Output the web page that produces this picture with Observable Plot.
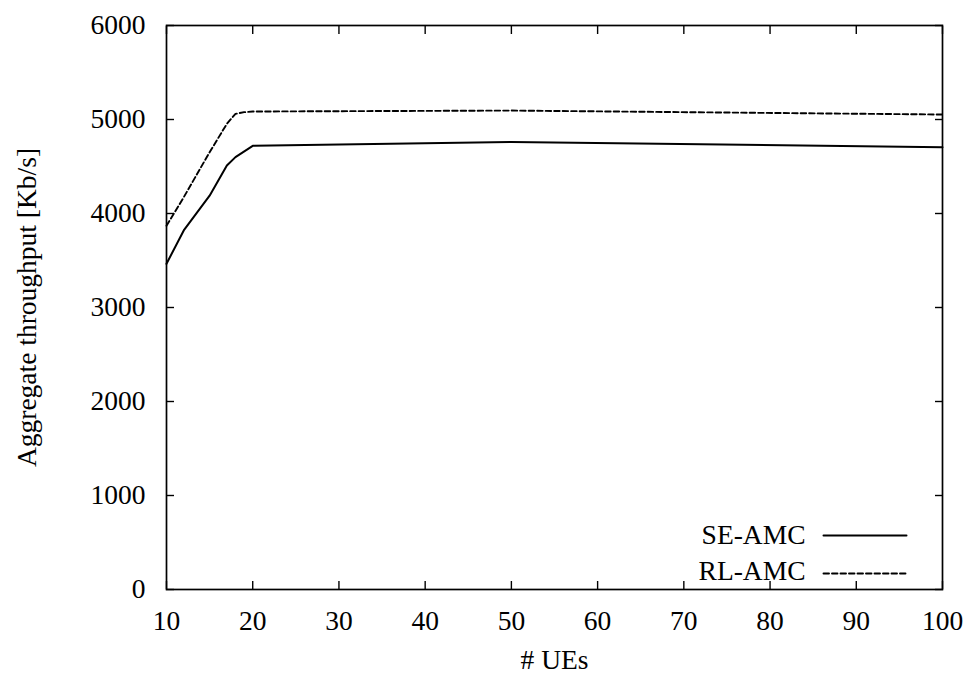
<!DOCTYPE html>
<html><head><meta charset="utf-8">
<script src="https://cdn.jsdelivr.net/npm/d3@7"></script>
<script src="https://cdn.jsdelivr.net/npm/@observablehq/plot@0.6"></script>
<style>body{margin:0;background:#fff}</style>
</head><body><div id="chart"></div>
<script>
const seUes = [10, 12, 15, 17, 18, 20, 50, 100];
const seAmc = [3465, 3820, 4190, 4510, 4600, 4720, 4760, 4705];
const rlUes = [10, 12, 15, 17, 18, 19, 20, 50, 100];
const rlAmc = [3870, 4173, 4652, 4954, 5060, 5078, 5085, 5095, 5053];
const xTicks = [10, 20, 30, 40, 50, 60, 70, 80, 90, 100];
const yTicks = [0, 1000, 2000, 3000, 4000, 5000, 6000];
const seriesNames = ["SE-AMC", "RL-AMC"];
const xLabel = "# UEs";
const yLabel = "Aggregate throughput [Kb/s]";

const se = seUes.map((x, i) => ({x, y: seAmc[i]}));
const rl = rlUes.map((x, i) => ({x, y: rlAmc[i]}));

const font = "Liberation Serif, Times New Roman, serif";
const fs = 27.5;
const dash = "5.5,3";
const lineShape = {draw(ctx, l) { ctx.moveTo(0, 0); ctx.lineTo(0, -l); }};

const chart = Plot.plot({
  width: 972,
  height: 678,
  marginLeft: 166,
  marginRight: 30,
  marginTop: 25,
  marginBottom: 89,
  style: {fontFamily: font, fontSize: fs + "px", background: "#fff", color: "#000"},
  x: {domain: [10, 100]},
  y: {domain: [0, 6000]},
  marks: [
    Plot.axisX(xTicks, {anchor: "bottom", tickSize: -8, tickPadding: 29, label: null, tickFormat: d => String(d), fontSize: fs, fontFamily: font, strokeWidth: 1.4}),
    Plot.axisX(xTicks, {anchor: "top", tickSize: -8, tickFormat: () => "", label: null, strokeWidth: 1.4}),
    Plot.axisY(yTicks, {anchor: "left", tickSize: -8, tickPadding: 29, label: null, tickFormat: d => String(d), fontSize: fs, fontFamily: font, strokeWidth: 1.4}),
    Plot.axisY(yTicks, {anchor: "right", tickSize: -8, tickFormat: () => "", label: null, strokeWidth: 1.4}),
    Plot.frame({stroke: "#000", strokeWidth: 1.7}),
    Plot.line(se, {x: "x", y: "y", stroke: "#000", strokeWidth: 2}),
    Plot.line(rl, {x: "x", y: "y", stroke: "#000", strokeWidth: 1.9, strokeDasharray: dash}),
    Plot.text([seriesNames[0]], {text: d => d, frameAnchor: "bottom-right", dx: -137, dy: -54, textAnchor: "end", lineAnchor: "middle", fontSize: fs, fontFamily: font}),
    Plot.text([seriesNames[1]], {text: d => d, frameAnchor: "bottom-right", dx: -137, dy: -18, textAnchor: "end", lineAnchor: "middle", fontSize: fs, fontFamily: font}),
    Plot.vector([seriesNames[0]], {frameAnchor: "bottom-right", dx: -36, dy: -54, rotate: 90, length: 83, anchor: "end", shape: lineShape, stroke: "#000", strokeWidth: 2}),
    Plot.vector([seriesNames[1]], {frameAnchor: "bottom-right", dx: -36, dy: -16, rotate: 90, length: 83, anchor: "end", shape: lineShape, stroke: "#000", strokeWidth: 1.9, strokeDasharray: dash}),
    Plot.text([xLabel], {text: d => d, frameAnchor: "bottom", dy: 71, lineAnchor: "middle", fontSize: fs, fontFamily: font}),
    Plot.text([yLabel], {text: d => d, frameAnchor: "left", dx: -139, rotate: -90, textAnchor: "middle", lineAnchor: "middle", fontSize: fs, fontFamily: font})
  ]
});
document.getElementById("chart").appendChild(chart);
</script>
</body></html>
